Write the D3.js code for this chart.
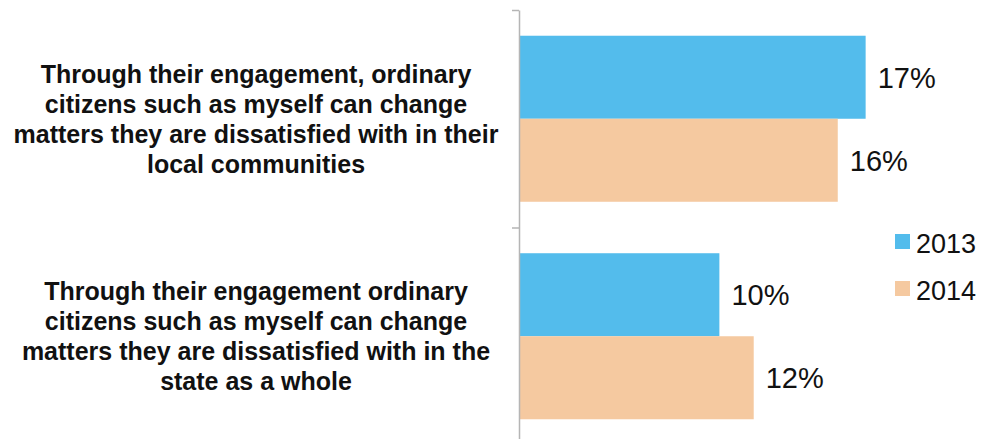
<!DOCTYPE html>
<html>
<head>
<meta charset="utf-8">
<script src="https://cdn.jsdelivr.net/npm/d3@7"></script>
<style>
  body { margin: 0; background: #fff; }
  svg { display: block; }
</style>
</head>
<body>
<svg width="981" height="439"></svg>
<script>
// data
var statements = [
  ["Through their engagement, ordinary", "citizens such as myself can change", "matters they are dissatisfied with in their", "local communities"],
  ["Through their engagement ordinary", "citizens such as myself can change", "matters they are dissatisfied with in the", "state as a whole"]
];
var years = ["2013", "2014"];
var values2013 = [17.16, 9.92];
var values2014 = [15.78, 11.62];
var labels2013 = ["17%", "10%"];
var labels2014 = ["16%", "12%"];

var svg = d3.select("svg");
var color = d3.scaleOrdinal().domain(years).range(["#53bcec", "#f5c9a0"]);

var x = d3.scaleLinear().domain([0, 20]).range([519, 923]);
var y0 = d3.scaleBand().domain([0, 1]).range([10, 445]).padding(0);
var y1 = d3.scaleBand().domain(years).range([0, y0.bandwidth()]).paddingInner(0).paddingOuter(0.31);

var rows = [];
statements.forEach(function(s, i) {
  rows.push({ g: i, year: "2013", v: values2013[i], label: labels2013[i] });
  rows.push({ g: i, year: "2014", v: values2014[i], label: labels2014[i] });
});

svg.selectAll("rect.bar")
  .data(rows)
  .enter().append("rect")
  .attr("class", "bar")
  .attr("x", x(0))
  .attr("y", d => y0(d.g) + y1(d.year))
  .attr("width", d => x(d.v) - x(0))
  .attr("height", y1.bandwidth())
  .attr("fill", d => color(d.year));

svg.selectAll("text.val")
  .data(rows)
  .enter().append("text")
  .attr("class", "val")
  .attr("x", d => x(d.v) + 12)
  .attr("y", d => y0(d.g) + y1(d.year) + y1.bandwidth() / 2)
  .attr("dy", "0.36em")
  .style("font-family", "Liberation Sans, Arial, sans-serif")
  .style("font-size", "29px")
  .attr("fill", "#111")
  .text(d => d.label);

// axis with ticks at the category boundaries
var edge = d3.scaleLinear().domain([0, 2]).range([10, 445]);
var axis = d3.axisLeft(edge).tickValues([0, 1, 2]).tickFormat("").tickSize(7).tickSizeOuter(0);
var ax = svg.append("g").attr("transform", "translate(519,0)").call(axis);
ax.selectAll("path, line").attr("stroke", "#b5b5b5").attr("stroke-width", 1.5);

// category labels
var cat = svg.selectAll("text.cat")
  .data(statements)
  .enter().append("text")
  .attr("class", "cat")
  .attr("text-anchor", "middle")
  .style("font-family", "Liberation Sans, Arial, sans-serif")
  .style("font-size", "25px")
  .style("font-weight", "bold")
  .attr("fill", "#111");

cat.each(function(lines, i) {
  var c = y0(i) + y0.bandwidth() / 2;
  var top = c - (lines.length - 1) * 30 / 2;
  d3.select(this).selectAll("tspan")
    .data(lines)
    .enter().append("tspan")
    .attr("x", 256)
    .attr("y", (d, j) => top + j * 30)
    .attr("dy", "0.36em")
    .text(d => d);
});

// legend
var leg = svg.selectAll("g.leg")
  .data(years)
  .enter().append("g")
  .attr("class", "leg")
  .attr("transform", (d, i) => "translate(895," + (234 + i * 47) + ")");
leg.append("rect").attr("width", 15).attr("height", 15).attr("fill", d => color(d));
leg.append("text")
  .attr("x", 21)
  .attr("y", 19)
  .style("font-family", "Liberation Sans, Arial, sans-serif")
  .style("font-size", "27px")
  .attr("fill", "#111")
  .text(d => d);
</script>
</body>
</html>
